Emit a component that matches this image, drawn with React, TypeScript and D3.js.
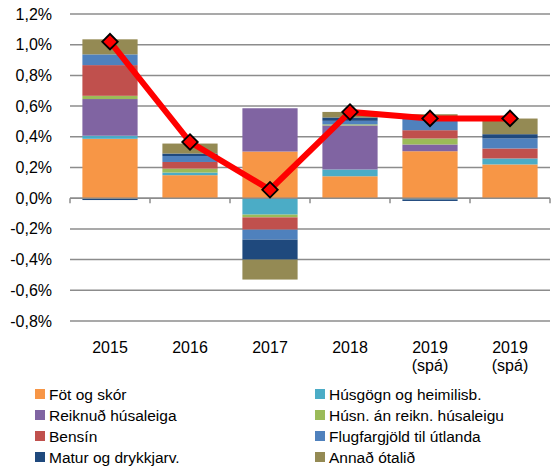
import React from "react";
import * as d3 from "d3";

// Flokkar (ár) og merkimiðar á x-ás
const categories = ["2015", "2016", "2017", "2018", "2019a", "2019b"];
const categoryLabels = [["2015"], ["2016"], ["2017"], ["2018"], ["2019", "(spá)"], ["2019", "(spá)"]];

// Framlag einstakra liða (prósentustig)
const fotOgSkor = [0.387, 0.15, 0.304, 0.143, 0.306, 0.22];
const husgogn = [0.02, 0.017, -0.107, 0.044, -0.008, 0.039];
const reiknudHusaleiga = [0.239, 0, 0.282, 0.287, 0.044, 0];
const husnAnReikn = [0.021, 0.026, -0.018, 0.007, 0.039, 0];
const bensin = [0.2, 0.043, -0.08, 0, 0.054, 0.065];
const flugfargjold = [0.07, 0.039, -0.065, 0.023, 0.091, 0.065];
const maturOgDrykkjarv = [-0.012, 0.016, -0.13, 0.022, -0.01, 0.028];
const annadOtalid = [0.098, 0.065, -0.13, 0.036, 0.013, 0.102];

// Heildaráhrif (lína)
const totalEffect = [1.02, 0.366, 0.055, 0.562, 0.52, 0.52];

// Ásmerki
const yTicks = [-0.8, -0.6, -0.4, -0.2, 0, 0.2, 0.4, 0.6, 0.8, 1.0, 1.2];

const seriesNames = [
  "Föt og skór",
  "Húsgögn og heimilisb.",
  "Reiknuð húsaleiga",
  "Húsn. án reikn. húsaleigu",
  "Bensín",
  "Flugfargjöld til útlanda",
  "Matur og drykkjarv.",
  "Annað ótalið",
];
const seriesValues = [
  fotOgSkor,
  husgogn,
  reiknudHusaleiga,
  husnAnReikn,
  bensin,
  flugfargjold,
  maturOgDrykkjarv,
  annadOtalid,
];
const seriesColors = [
  "#F79646",
  "#4BACC6",
  "#8064A2",
  "#9BBB59",
  "#C0504D",
  "#4F81BD",
  "#1F497D",
  "#948A54",
];

export default function App() {
  const width = 558;
  const height = 471;
  const plot = { left: 70, right: 550, top: 14, bottom: 321 };
  const font = "'Liberation Sans', Arial, sans-serif";

  const x = d3
    .scaleBand<string>()
    .domain(categories)
    .range([plot.left, plot.right])
    .paddingInner(0.31)
    .paddingOuter(0.155);

  const y = d3.scaleLinear().domain([-0.8, 1.2]).range([plot.bottom, plot.top]);

  // Tafla fyrir d3.stack
  const table = categories.map((c, i) => {
    const row: Record<string, any> = { cat: c };
    seriesNames.forEach((s, k) => {
      row[s] = seriesValues[k][i];
    });
    return row;
  });

  const stacked = d3
    .stack<any>()
    .keys(seriesNames)
    .offset(d3.stackOffsetDiverging)(table);

  const line = d3
    .line<number>()
    .x((_, i) => (x(categories[i]) ?? 0) + x.bandwidth() / 2)
    .y((d) => y(d));

  const diamond = d3.symbol().type(d3.symbolSquare).size(120)();

  const step = x.step();
  const tickXs = d3.range(categories.length + 1).map((i) => plot.left + i * step);

  const fmt = (v: number) => d3.format(".1f")(v).replace(".", ",").replace("−", "-") + "%";

  return (
    <svg
      width={width}
      height={height}
      style={{ position: "absolute", left: 0, top: 0, background: "#fff" }}
    >
      {/* Hnitanet */}
      <g>
        {yTicks.map((t, i) => (
          <line
            key={i}
            x1={plot.left}
            x2={plot.right}
            y1={y(t)}
            y2={y(t)}
            stroke="#8c8c8c"
            strokeWidth={1.5}
          />
        ))}
      </g>
      {/* Y ás */}
      <g>
        {yTicks.map((t, i) => (
          <text
            key={i}
            x={52}
            y={y(t) + 5.5}
            textAnchor="end"
            style={{ fontFamily: font, fontSize: "16px", fill: "#000" }}
          >
            {fmt(t)}
          </text>
        ))}
      </g>
      {/* Súlur */}
      {stacked.map((layer, k) => (
        <g key={k} fill={seriesColors[k]}>
          {layer.map((d, i) => {
            const y0 = y(d[0]);
            const y1 = y(d[1]);
            return (
              <rect
                key={i}
                x={x(categories[i])}
                y={Math.min(y0, y1)}
                width={x.bandwidth()}
                height={Math.abs(y0 - y1)}
              />
            );
          })}
        </g>
      ))}
      {/* Núll lína og merki */}
      <g stroke="#8c8c8c" strokeWidth={1.5}>
        <line x1={plot.left} x2={plot.right} y1={y(0)} y2={y(0)} />
        {tickXs.map((tx, i) => (
          <line key={i} x1={tx} x2={tx} y1={y(0)} y2={y(0) + 5} />
        ))}
      </g>
      {/* Lína */}
      <path d={line(totalEffect) ?? ""} fill="none" stroke="#FF0000" strokeWidth={6} />
      {totalEffect.map((v, i) => (
        <path
          key={i}
          d={diamond ?? ""}
          transform={`translate(${(x(categories[i]) ?? 0) + x.bandwidth() / 2},${y(v)}) rotate(45)`}
          fill="#FF0000"
          stroke="#000"
          strokeWidth={1.8}
        />
      ))}
      {/* X ás */}
      <g>
        {categories.map((c, i) =>
          categoryLabels[i].map((l, j) => (
            <text
              key={c + j}
              x={(x(c) ?? 0) + x.bandwidth() / 2}
              y={353 + j * 18}
              textAnchor="middle"
              style={{ fontFamily: font, fontSize: "16px", fill: "#000" }}
            >
              {l}
            </text>
          ))
        )}
      </g>
      {/* Skýringar */}
      <g>
        {seriesNames.map((s, k) => {
          const col = k % 2;
          const row = Math.floor(k / 2);
          const lx = col === 0 ? 35 : 315;
          const ly = 389 + row * 21;
          return (
            <g key={s} transform={`translate(${lx},${ly})`}>
              <rect x={0} y={0} width={10} height={10} fill={seriesColors[k]} />
              <text
                x={14}
                y={10.5}
                style={{ fontFamily: font, fontSize: "15.5px", fill: "#000" }}
              >
                {s}
              </text>
            </g>
          );
        })}
      </g>
    </svg>
  );
}
